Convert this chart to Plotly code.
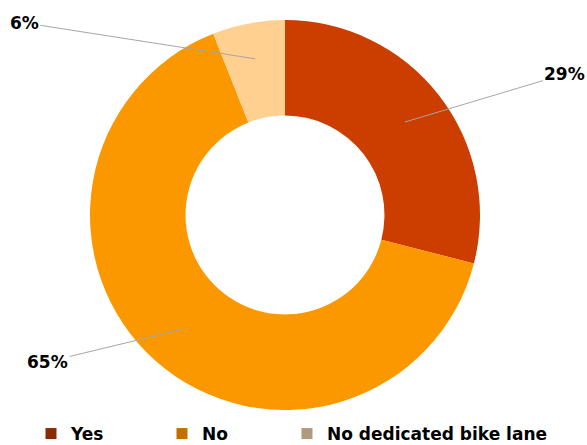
import numpy as np
import plotly.graph_objects as go

labels = ["Yes", "No", "No dedicated bike lane"]
values = [29, 65, 6]
colors = ["#CC3D00", "#FB9800", "#FFD08F"]
legend_colors = ["#8A2A06", "#C47000", "#B09A7C"]

W, H = 587, 445
dom_x = [90 / W, 480 / W]
dom_y = [1 - 410 / H, 1 - 20 / H]
hole = 0.51
FONT = "DejaVu Sans"

fig = go.Figure(go.Pie(
    labels=labels, values=values, hole=hole, sort=False,
    direction="clockwise", rotation=0, showlegend=False,
    domain=dict(x=dom_x, y=dom_y),
    marker=dict(colors=colors, line=dict(color="rgba(0,0,0,0)", width=0)),
    textinfo="none", hoverinfo="label+percent",
))

# leader-line anchor points computed from the data (mid-angle of each slice, mid ring)
frac = np.array(values) / np.sum(values)
mid = (np.cumsum(frac) - frac / 2) * 2 * np.pi
cx, cy = (dom_x[0] + dom_x[1]) / 2 * W, (1 - (dom_y[0] + dom_y[1]) / 2) * H
R = min((dom_x[1] - dom_x[0]) * W, (dom_y[1] - dom_y[0]) * H) / 2
rmid = R * (1 + hole) / 2 * np.array([1.03, 1.03, 1.08])
px = cx + rmid * np.sin(mid)
py = cy - rmid * np.cos(mid)
offsets = [(160, -48), (-137, 33), (-231, -36)]
for v, x, y, (ax, ay) in zip(values, px, py, offsets):
    fig.add_annotation(
        x=x / W, y=1 - y / H, xref="paper", yref="paper",
        text=f"<b>{v}%</b>", showarrow=True, arrowhead=0, arrowwidth=1,
        arrowcolor="#A6A6A6", ax=ax, ay=ay, standoff=0,
        font=dict(family=FONT, size=17, color="#000000"),
    )

# legend: one legend per category so the spacing matches the reference
legend_x = [31, 162, 287]
legend_ids = ["legend", "legend2", "legend3"]
for lab, col, lid in zip(labels, legend_colors, legend_ids):
    fig.add_trace(go.Scatter(
        x=[None], y=[None], mode="markers", name=f"<b>{lab}</b>",
        marker=dict(symbol="square", size=11, color=col),
        legend=lid, showlegend=True, hoverinfo="skip",
    ))

leg_common = dict(orientation="h", yanchor="middle", y=1 - 434 / H, xanchor="left",
                  font=dict(family=FONT, size=17, color="#000000"),
                  itemwidth=30, bgcolor="rgba(0,0,0,0)")
layout_legends = {}
for lid, lx in zip(legend_ids, legend_x):
    layout_legends[lid] = dict(leg_common, x=lx / W)

fig.update_layout(
    width=W, height=H, margin=dict(l=0, r=0, t=0, b=0, autoexpand=False),
    paper_bgcolor="white", plot_bgcolor="white",
    xaxis=dict(visible=False), yaxis=dict(visible=False),
    **layout_legends,
)
fig.write_html("out.html", config={"displayModeBar": False},
               post_script="document.body.style.margin='0';")
